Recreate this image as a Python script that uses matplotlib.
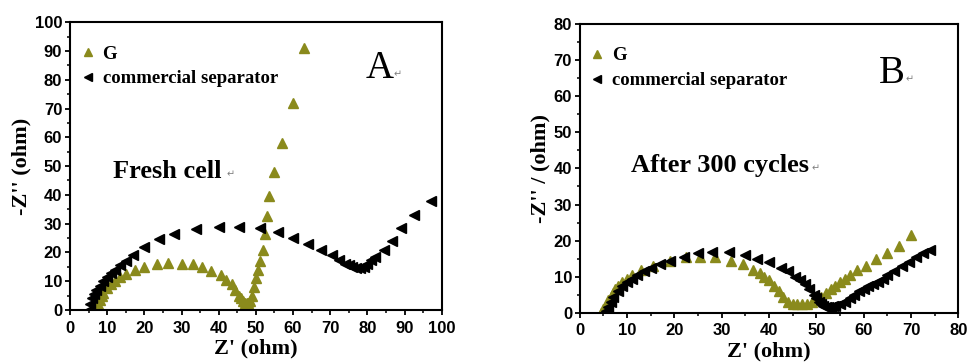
"""Nyquist plots: G vs commercial separator, fresh cell and after 300 cycles."""
import matplotlib

matplotlib.use("Agg")
import matplotlib.pyplot as plt
from matplotlib.ticker import MultipleLocator

OLIVE = "#8a8a1c"

# fresh cell
fresh_g_x = [7, 7.5, 8, 8.5, 9, 10, 11, 12, 13.5, 15, 17.5, 20, 23.5, 26.5, 30, 33, 35.5,
             38, 40.5, 42, 43.5, 44.5, 45.5, 46, 46.5, 47, 47.5, 48, 48.5, 49, 49.5, 50,
             50.5, 51, 52, 52.5, 53, 53.5, 55, 57, 60, 63]
fresh_g_y = [0.5, 2, 3.5, 5, 6, 7.5, 9, 10, 11.5, 12.5, 14, 15, 16, 16.5, 16, 16, 15,
             13.5, 12, 10.5, 9, 7, 5, 4, 3, 2.5, 2.5, 2.5, 3, 5, 8, 11,
             14, 17, 21, 26.5, 32.5, 39.5, 48, 58, 72, 91]
fresh_c_x = [5, 5.5, 6, 6.5, 7, 8, 9, 10, 11, 12, 13.5, 15, 17, 20, 24, 28, 34, 40, 45.5,
             51, 56, 60, 64, 67.5, 70.5, 72.5, 74, 75, 76, 77, 78, 79, 80, 81, 82, 84.5,
             86.5, 89, 92.5, 97]
fresh_c_y = [0, 2, 4, 5.5, 7, 8.5, 10, 11.5, 13, 14, 15.5, 17, 19, 22, 24.5, 26.5, 28, 29,
             29, 28.5, 27, 25, 23, 21, 19, 17.5, 16, 15.5, 15, 14.5, 14.5, 15, 16, 17.5,
             18.5, 21, 24, 28.5, 33, 38]

# after 300 cycles
aged_g_x = [4.5, 5, 5.5, 6, 6.5, 7, 7.5, 8, 9, 10, 11, 13, 15.5, 19, 22.5, 25.5, 28.5, 32,
            34.5, 36.5, 38, 39, 40, 41, 42, 43, 44, 45, 46, 47, 48, 49, 50, 51, 52, 53,
            54, 55, 56, 57, 58.5, 60.5, 62.5, 65, 67.5, 70]
aged_g_y = [0, 1, 2, 3.5, 4.5, 5.5, 6.5, 7.5, 8.5, 9.5, 10.5, 12, 13, 14.5, 15.5, 15.5,
            15.5, 14.5, 13.5, 12, 11, 10, 9, 7.5, 6, 4.5, 3, 2.5, 2.5, 2.5, 2.5, 3, 3.5,
            4.5, 5.5, 6.5, 7.5, 8.5, 9.5, 10.5, 12, 13, 15, 16.5, 18.5, 21.5]
aged_c_x = [5.5, 6, 6.5, 7, 8, 9, 10, 11, 12, 13.5, 15, 17, 19, 22, 25, 28, 31.5, 35, 37.5,
            40, 42.5, 44, 45.5, 46.5, 47.5, 48.5, 49.5, 50, 50.5, 51, 51.5, 52, 52.5, 53,
            53.5, 54, 55, 56, 57, 58, 59, 60, 61, 62, 63, 64, 65, 66.5, 68, 69.5, 71,
            72.5, 74]
aged_c_y = [0.5, 1.5, 3, 4.5, 6, 7.5, 8.5, 9.5, 10.5, 11.5, 12.5, 13.5, 14.5, 15.5, 16.5,
            17, 17, 16, 15, 14, 12.5, 11.5, 10, 9, 8, 6.5, 5, 4, 3, 2.5, 2, 1.5, 1.5, 1.5,
            2, 2, 2.5, 3, 4, 5, 6, 6.5, 7.5, 8, 8.5, 9.5, 10.5, 11.5, 13, 14, 15.5,
            16.5, 17.5]

SERIF = "Liberation Serif"
SANS = "Liberation Sans"

fig = plt.figure(figsize=(9.68, 3.63), dpi=100)
ax_a = fig.add_axes([0.0723, 0.146, 0.384, 0.793])
ax_b = fig.add_axes([0.599, 0.138, 0.391, 0.796])


def style(ax, lim, ylabel):
    ax.set_xlim(0, lim)
    ax.set_ylim(0, lim)
    ax.xaxis.set_major_locator(MultipleLocator(10))
    ax.yaxis.set_major_locator(MultipleLocator(10))
    ax.xaxis.set_minor_locator(MultipleLocator(5))
    ax.yaxis.set_minor_locator(MultipleLocator(5))
    ax.tick_params(which="major", direction="out", length=3.6, width=1.3, labelsize=12, pad=2)
    ax.tick_params(axis="x", which="major", pad=4)
    ax.tick_params(which="minor", direction="out", length=2, width=1.1)
    for lab in ax.get_xticklabels() + ax.get_yticklabels():
        lab.set_fontfamily(SANS)
        lab.set_fontweight("bold")
    for s in ax.spines.values():
        s.set_linewidth(1.5)
    ax.set_xlabel("Z' (ohm)", fontfamily=SERIF, fontweight="bold", fontsize=16, labelpad=2)
    ax.set_ylabel(ylabel, fontfamily=SERIF, fontweight="bold", fontsize=16, labelpad=2)


def draw(ax, gx, gy, cx, cy):
    ax.plot(gx, gy, ls="none", marker="^", ms=7.5, color=OLIVE, mec=OLIVE, label="G")
    ax.plot(cx, cy, ls="none", marker="<", ms=7.5, color="black", label="commercial separator")
    ax.legend(loc="upper left", frameon=False,
              prop={"family": SERIF, "weight": "bold", "size": 13.5},
              handlelength=0.6, handletextpad=0.5, borderaxespad=0.0, labelspacing=0.4,
              markerscale=0.75, bbox_to_anchor=(0.012, 0.945))


draw(ax_a, fresh_g_x, fresh_g_y, fresh_c_x, fresh_c_y)
style(ax_a, 100, "-Z'' (ohm)")
ax_a.text(0.795, 0.84, "A", transform=ax_a.transAxes, fontfamily=SERIF, fontsize=28,
          ha="left", va="center")
ax_a.text(0.87, 0.82, "\u21b5", transform=ax_a.transAxes, color="gray", fontsize=7,
          ha="left", va="center")
ax_a.text(0.115, 0.48, "Fresh cell", transform=ax_a.transAxes, fontfamily=SERIF,
          fontweight="bold", fontsize=19, ha="left", va="center")
ax_a.text(0.42, 0.47, "\u21b5", transform=ax_a.transAxes, color="gray", fontsize=7,
          ha="left", va="center")

draw(ax_b, aged_g_x, aged_g_y, aged_c_x, aged_c_y)
style(ax_b, 80, "-Z'' / (ohm)")
ax_b.text(0.79, 0.83, "B", transform=ax_b.transAxes, fontfamily=SERIF, fontsize=28,
          ha="left", va="center")
ax_b.text(0.86, 0.81, "\u21b5", transform=ax_b.transAxes, color="gray", fontsize=7,
          ha="left", va="center")
ax_b.text(0.135, 0.51, "After 300 cycles", transform=ax_b.transAxes, fontfamily=SERIF,
          fontweight="bold", fontsize=19, ha="left", va="center")
ax_b.text(0.612, 0.50, "\u21b5", transform=ax_b.transAxes, color="gray", fontsize=7,
          ha="left", va="center")

fig.savefig("out.png", dpi=100)
